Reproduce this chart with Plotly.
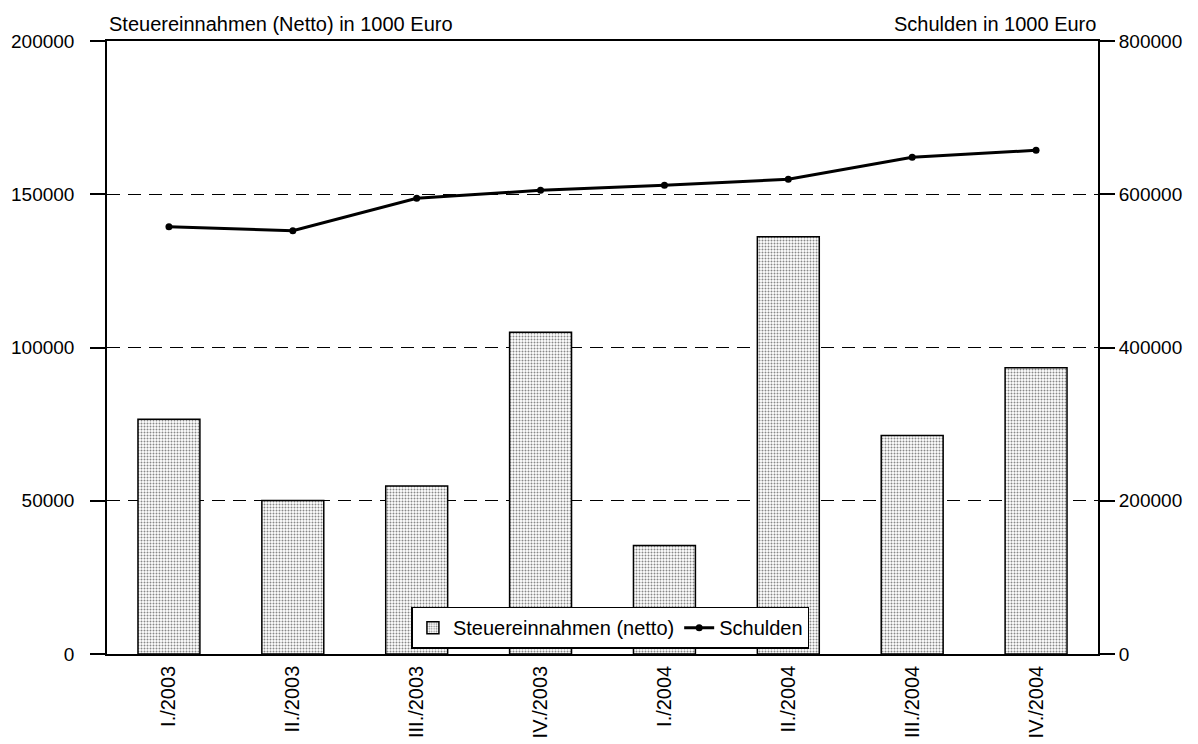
import plotly.graph_objects as go

quarters = ["I./2003", "II./2003", "III./2003", "IV./2003",
            "I./2004", "II./2004", "III./2004", "IV./2004"]
steuer = [76600, 50100, 54800, 105000, 35400, 136100, 71300, 93400]
schulden = [557700, 552500, 594700, 605200, 611700, 619500, 648200, 657300]

left_ticks = [0, 50000, 100000, 150000, 200000]
right_ticks = [0, 200000, 400000, 600000, 800000]

FONT = "Liberation Sans, Arial, sans-serif"

fig = go.Figure()
fig.add_trace(go.Bar(
    x=quarters, y=steuer, name="Steuereinnahmen (netto)",
    width=0.5,
    marker=dict(
        color="white",
        line=dict(color="black", width=1.5),
        pattern=dict(shape=".", fgcolor="#111111", bgcolor="white",
                     size=3, solidity=0.35),
    ),
    yaxis="y",
))
fig.add_trace(go.Scatter(
    x=quarters, y=schulden, name="Schulden", mode="lines+markers",
    line=dict(color="black", width=3),
    marker=dict(color="black", size=7),
    yaxis="y2",
))

# page body has an 8px margin, so the figure is shifted by 8px
fig.update_layout(
    width=1190, height=736,
    margin=dict(l=99, r=100, t=33, b=90),
    paper_bgcolor="white", plot_bgcolor="white",
    font=dict(family=FONT, size=19, color="black"),
    showlegend=True,
    legend=dict(
        orientation="h", x=0.508, y=0.043, xanchor="center", yanchor="middle",
        bgcolor="white", bordercolor="black", borderwidth=1.5,
        font=dict(size=20), itemwidth=30, tracegroupgap=0,
    ),
    xaxis=dict(
        type="category", tickangle=-90, showgrid=False, automargin=False,
        showline=True, linecolor="black", linewidth=1.5, mirror=True,
        ticks="", ticklabelstandoff=2, tickfont=dict(size=20),
    ),
    yaxis=dict(
        range=[0, 200000], tickvals=left_ticks, automargin=False,
        ticktext=[str(v) for v in left_ticks],
        showline=True, linecolor="black", linewidth=1.5, mirror=True,
        ticks="outside", ticklen=15, tickwidth=1.5, tickcolor="black",
        showgrid=True, gridcolor="black", gridwidth=1.3, griddash="13px,8px",
        zeroline=False, ticklabelstandoff=12,
    ),
    yaxis2=dict(
        range=[0, 800000], tickvals=right_ticks, automargin=False,
        ticktext=[str(v) for v in right_ticks],
        overlaying="y", side="right",
        showline=True, linecolor="black", linewidth=2,
        ticks="outside", ticklen=15, tickwidth=1.5, tickcolor="black",
        showgrid=False, zeroline=False, ticklabelstandoff=0,
    ),
    annotations=[
        dict(text="Steuereinnahmen (Netto) in 1000 Euro", xref="paper", yref="paper",
             x=0, y=1, xanchor="left", yanchor="bottom", yshift=4,
             showarrow=False, font=dict(size=20)),
        dict(text="Schulden in 1000 Euro", xref="paper", yref="paper",
             x=1, y=1, xanchor="right", yanchor="bottom", yshift=4,
             showarrow=False, font=dict(size=20)),
    ],
)

fig.write_html("out.html")
